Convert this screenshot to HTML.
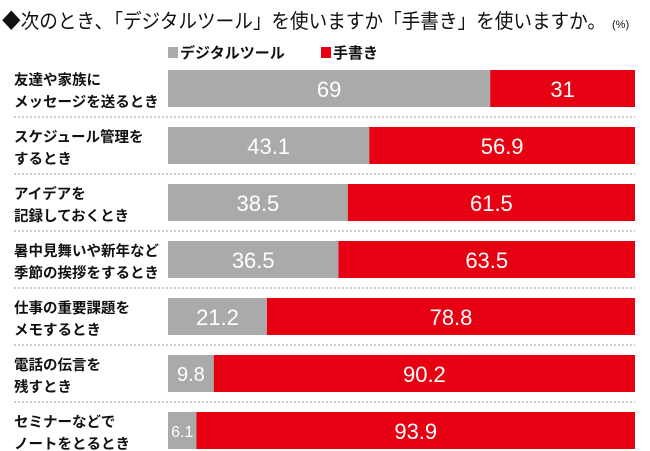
<!DOCTYPE html>
<html><head><meta charset="utf-8"><style>
body{margin:0;background:#fff;width:650px;height:451px;overflow:hidden}
svg{display:block;font-family:"Liberation Sans","Noto Sans CJK JP",sans-serif}
</style></head><body>
<svg id="chart" width="650" height="451" viewBox="0 0 650 451">
<text x="2" y="28" font-size="20" fill="#111" textLength="604" lengthAdjust="spacingAndGlyphs">◆次のとき､「デジタルツール」を使いますか「手書き」を使いますか。</text>
<text x="612" y="28" font-size="11" fill="#111">(%)</text>
<g>
<rect x="168" y="47" width="10" height="11" fill="#aaaaaa"/>
<text x="180" y="58" font-size="15" font-weight="bold" fill="#111">デジタルツール</text>
<rect x="321" y="47" width="10" height="11" fill="#e60012"/>
<text x="333" y="58" font-size="15" font-weight="bold" fill="#111">手書き</text>
</g>
<g id="rows"></g>
</svg>
<script>
const categories=[["友達や家族に","メッセージを送るとき"],["スケジュール管理を","するとき"],["アイデアを","記録しておくとき"],["暑中見舞いや新年など","季節の挨拶をするとき"],["仕事の重要課題を","メモするとき"],["電話の伝言を","残すとき"],["セミナーなどで","ノートをとるとき"]];
const digital=[69,43.1,38.5,36.5,21.2,9.8,6.1];
const handwriting=[31,56.9,61.5,63.5,78.8,90.2,93.9];
const ns="http://www.w3.org/2000/svg";
const x0=168,x1=635,top0=70,step=57,bh=37;
const xs=v=>x0+(x1-x0)*v/100;
const g=document.getElementById('rows');
function mk(t,a){const e=document.createElementNS(ns,t);for(const k in a)e.setAttribute(k,a[k]);return e;}
categories.forEach((c,i)=>{
const y=top0+i*step;
const t=mk('text',{x:14,y:y+15,'font-size':14.5,'font-weight':'bold',fill:'#111'});


c.forEach((l,j)=>{const s=mk('tspan',{x:14,dy:j?22:0});s.textContent=l;t.appendChild(s);});
g.appendChild(t);
const xd=xs(digital[i]);
const r1=mk('rect',{x:x0,y:y,width:xd-x0,height:bh,fill:'#aaaaaa'});


g.appendChild(r1);
const r2=mk('rect',{x:xd,y:y,width:xs(digital[i]+handwriting[i])-xd,height:bh,fill:'#e60012'});


g.appendChild(r2);
const w=xd-x0;
const fs=w<35?16:(w<50?20:22);
const v1=mk('text',{x:(x0+xd)/2,y:y+19+fs*0.36,'text-anchor':'middle','font-size':fs,fill:'#fff'});
v1.textContent=digital[i];


g.appendChild(v1);
const v2=mk('text',{x:(xd+x1)/2,y:y+27,'text-anchor':'middle','font-size':22,fill:'#fff'});
v2.textContent=handwriting[i];


g.appendChild(v2);
if(i<categories.length-1){
const ln=mk('line',{x1:14,x2:x1,y1:y+bh+10,y2:y+bh+10,stroke:'#999','stroke-width':1,'stroke-dasharray':'2,2'});


g.appendChild(ln);}
});
</script>
</body></html>
